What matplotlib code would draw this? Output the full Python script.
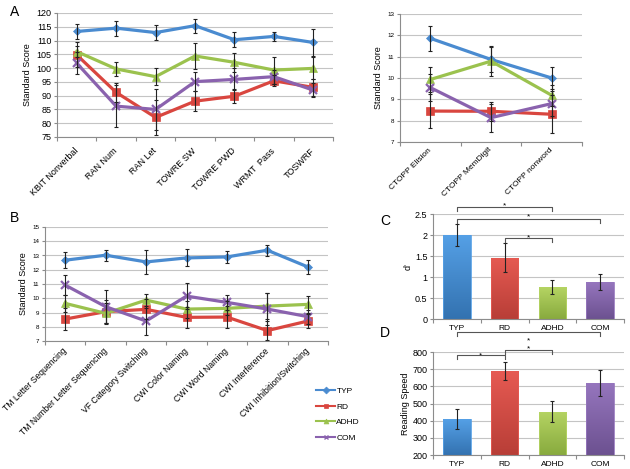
import numpy as np
import matplotlib
matplotlib.use('Agg')
import matplotlib.pyplot as plt
from matplotlib.lines import Line2D

plt.rcParams['font.family'] = ['Liberation Sans', 'DejaVu Sans']

groups = ['TYP', 'RD', 'ADHD', 'COM']
line_colors = ['#4A8BD0', '#D9463F', '#9BC24E', '#8A62AE']
bar_top = ['#55A0E6', '#E65A52', '#B5D463', '#9676BE']
bar_bot = ['#3372B0', '#B83E37', '#88AA3E', '#6C5190']
markers = ['D', 's', '^', 'x']
msizes = [4.5, 6, 6, 6]

# Panel A (left)
a1_labels = ['KBIT Nonverbal', 'RAN Num', 'RAN Let', 'TOWRE SW', 'TOWRE PWD', 'WRMT  Pass', 'TOSWRF']
a1_typ = [113.3, 114.5, 112.9, 115.4, 110.3, 111.5, 109.3]
a1_typ_err = [2.8, 2.7, 2.8, 2.5, 2.8, 1.6, 5.0]
a1_rd = [104.8, 91.2, 82.1, 88.0, 89.8, 95.4, 93.0]
a1_rd_err = [4.5, 3.5, 6.3, 3.6, 2.6, 2.0, 3.0]
a1_adhd = [106.0, 99.7, 96.9, 104.4, 102.1, 99.3, 99.9]
a1_adhd_err = [2.0, 2.4, 3.0, 4.7, 3.5, 4.9, 4.0]
a1_com = [101.8, 86.2, 85.0, 95.1, 95.9, 96.9, 92.0]
a1_com_err = [4.0, 7.6, 7.3, 3.4, 4.0, 2.5, 2.5]

# Panel A (right)
a2_labels = ['CTOPP Elision', 'CTOPP MemDigit', 'CTOPP nonword']
a2_typ = [11.86, 10.87, 10.0]
a2_typ_err = [0.6, 0.6, 0.52]
a2_rd = [8.45, 8.44, 8.30]
a2_rd_err = [0.8, 0.45, 0.9]
a2_adhd = [9.93, 10.79, 9.19]
a2_adhd_err = [0.6, 0.7, 0.5]
a2_com = [9.55, 8.14, 8.80]
a2_com_err = [0.63, 0.65, 0.6]

# Panel B
b_labels = ['TM Letter Sequencing', 'TM Number Letter Sequencing', 'VF Category Switching',
            'CWI Color Naming', 'CWI Word Naming', 'CWI Interference', 'CWI Inhibition/Switching']
b_typ = [12.67, 13.02, 12.55, 12.83, 12.90, 13.37, 12.20]
b_typ_err = [0.58, 0.4, 0.83, 0.6, 0.4, 0.39, 0.5]
b_rd = [8.54, 9.06, 9.22, 8.66, 8.68, 7.73, 8.40]
b_rd_err = [0.77, 0.8, 0.7, 0.75, 0.8, 0.66, 0.5]
b_adhd = [9.64, 8.94, 9.87, 9.24, 9.29, 9.45, 9.57]
b_adhd_err = [0.6, 0.7, 0.42, 0.6, 0.5, 0.9, 0.6]
b_com = [10.92, 9.41, 8.40, 10.15, 9.71, 9.24, 8.71]
b_com_err = [0.7, 1.2, 0.95, 0.9, 0.5, 1.15, 0.5]

# Panel C
c_vals = [2.0, 1.46, 0.76, 0.88]
c_err = [0.27, 0.35, 0.16, 0.18]
c_brackets = [(0, 2, 2.67), (0, 3, 2.38), (1, 2, 1.93)]
c_star_px = [4, 5, 3]

# Panel D
d_vals = [408, 688, 453, 620]
d_err = [58, 52, 61, 75]
d_brackets = [(0, 3, 915), (1, 2, 810), (0, 1, 781)]
d_star_px = [-5, 5, 3]

W, H = 630, 469
fig = plt.figure(figsize=(W / 100, H / 100), dpi=100)


def px_axes(x0, y0, x1, y1):
    return fig.add_axes([x0 / W, 1 - y1 / H, (x1 - x0) / W, (y1 - y0) / H])


GRID = '#C4C4C4'
SPINE = '#8C8C8C'


def style(ax, n, ylim, yticks, ytick_fs):
    ax.set_xlim(-0.5, n - 0.5)
    ax.set_ylim(*ylim)
    ax.set_yticks(yticks)
    ax.yaxis.grid(True, color=GRID, lw=0.8)
    ax.set_axisbelow(True)
    for s in ['top', 'right']:
        ax.spines[s].set_visible(False)
    for s in ['left', 'bottom']:
        ax.spines[s].set_color(SPINE)
        ax.spines[s].set_linewidth(0.8)
    ax.set_xticks(np.arange(n))
    ax.set_xticks(np.arange(n + 1) - 0.5, minor=True)
    ax.tick_params(axis='x', which='major', length=0)
    ax.tick_params(axis='x', which='minor', length=3, color=SPINE, width=0.8)
    ax.tick_params(axis='y', length=2, color=SPINE, width=0.8, labelsize=ytick_fs, pad=2)


def line_panel(ax, labels, series, errs, lab_fs, pad):
    x = np.arange(len(labels))
    for i, (ys, es) in enumerate(zip(series, errs)):
        mew = 1.6 if markers[i] == 'x' else 0.5
        ax.plot(x, ys, color=line_colors[i], lw=2.3, marker=markers[i], ms=msizes[i],
                mec=line_colors[i], mew=mew, zorder=3, solid_joinstyle='round')
        ax.errorbar(x, ys, yerr=es, fmt='none', ecolor='#222222', elinewidth=0.8,
                    capsize=1.5, capthick=0.8, zorder=4)
    ax.set_xticklabels(labels, rotation=45, ha='right', va='center',
                       rotation_mode='anchor', fontsize=lab_fs)
    ax.tick_params(axis='x', which='major', pad=pad)
    ax.set_ylabel('Standard Score', fontsize=6.5, labelpad=3)


# ---- Panel A left
axA = px_axes(57, 13, 333, 137)
style(axA, 7, (75, 120), np.arange(75, 121, 5), 6.5)
line_panel(axA, a1_labels, [a1_typ, a1_rd, a1_adhd, a1_com],
           [a1_typ_err, a1_rd_err, a1_adhd_err, a1_com_err], 6.5, 9)

# ---- Panel A right
axA2 = px_axes(400, 14, 582, 142)
style(axA2, 3, (7, 13), np.arange(7, 14, 1), 4.5)
line_panel(axA2, a2_labels, [a2_typ, a2_rd, a2_adhd, a2_com],
           [a2_typ_err, a2_rd_err, a2_adhd_err, a2_com_err], 6, 5)

# ---- Panel B
axB = px_axes(45, 227, 328, 341)
style(axB, 7, (7, 15), np.arange(7, 16, 1), 4.5)
line_panel(axB, b_labels, [b_typ, b_rd, b_adhd, b_com],
           [b_typ_err, b_rd_err, b_adhd_err, b_com_err], 6.2, 6)


def bar_panel(ax, vals, errs, ylim, yticks, ylabel, brackets, star_px, yfmt):
    x = np.arange(len(groups))
    style(ax, 4, ylim, yticks, 6.5)
    bars = ax.bar(x, vals, width=0.58, color='none', edgecolor='none', zorder=2)
    grad = np.linspace(0, 1, 256).reshape(-1, 1)
    for i, b in enumerate(bars):
        cmap = matplotlib.colors.LinearSegmentedColormap.from_list(
            'g%d' % i, [bar_bot[i], bar_top[i]])
        x0 = b.get_x()
        bot = max(0, ylim[0])
        im = ax.imshow(grad, cmap=cmap, origin='lower', aspect='auto',
                       extent=[x0, x0 + b.get_width(), bot, vals[i]], zorder=2)
        im.set_clip_path(b)
        ax.bar(x[i], vals[i], width=0.58, color='none', edgecolor=bar_top[i],
               lw=0.6, zorder=2.5)
    ax.errorbar(x, vals, yerr=errs, fmt='none', ecolor='#222222', elinewidth=0.8,
                capsize=1.5, capthick=0.8, zorder=4)
    ax.set_xlim(-0.5, 3.5)
    ax.set_ylim(*ylim)
    ax.set_xticklabels(groups, fontsize=6)
    ax.tick_params(axis='x', which='major', pad=4)
    ax.yaxis.set_major_formatter(matplotlib.ticker.FuncFormatter(yfmt))
    ax.set_ylabel(ylabel, fontsize=6.5, labelpad=2)
    span = ylim[1] - ylim[0]
    drop = span * 4.0 / (ax.get_position().height * H)
    for (i, j, yb), sp in zip(brackets, star_px):
        ax.plot([i, i, j, j], [yb - drop, yb, yb, yb - drop], color='#555555',
                lw=0.8, clip_on=False, zorder=5)
        ax.annotate('*', xy=((i + j) / 2, yb), xytext=(0, (sp - 4.8) * 0.72),
                    textcoords='offset points', ha='center', va='baseline',
                    fontsize=6, annotation_clip=False)


def fmt_c(v, p):
    return ('%g' % v)


axC = px_axes(433, 214, 624, 319)
bar_panel(axC, c_vals, c_err, (0, 2.5), np.arange(0, 2.51, 0.5), "d'",
          c_brackets, c_star_px, fmt_c)

axD = px_axes(433, 352, 624, 455)
bar_panel(axD, d_vals, d_err, (200, 800), np.arange(200, 801, 100), 'Reading Speed',
          d_brackets, d_star_px, fmt_c)

# Legend
handles = [Line2D([], [], color=line_colors[i], lw=1.5, marker=markers[i],
                  ms=3.5, mew=1.0 if markers[i] == 'x' else 0.5)
           for i in range(4)]
fig.legend(handles, groups, loc='upper left',
           bbox_to_anchor=(316 / W, 1 - 387 / H), frameon=False, fontsize=6,
           handlelength=2.3, handletextpad=0.15, labelspacing=0.95, borderpad=0,
           borderaxespad=0)

# Panel letters
for lab, (px, py) in {'A': (10, 12), 'B': (10, 218), 'C': (380, 221), 'D': (380, 333)}.items():
    fig.text(px / W, 1 - py / H, lab, fontsize=10, ha='left', va='center')

fig.savefig('out.png', dpi=100)
